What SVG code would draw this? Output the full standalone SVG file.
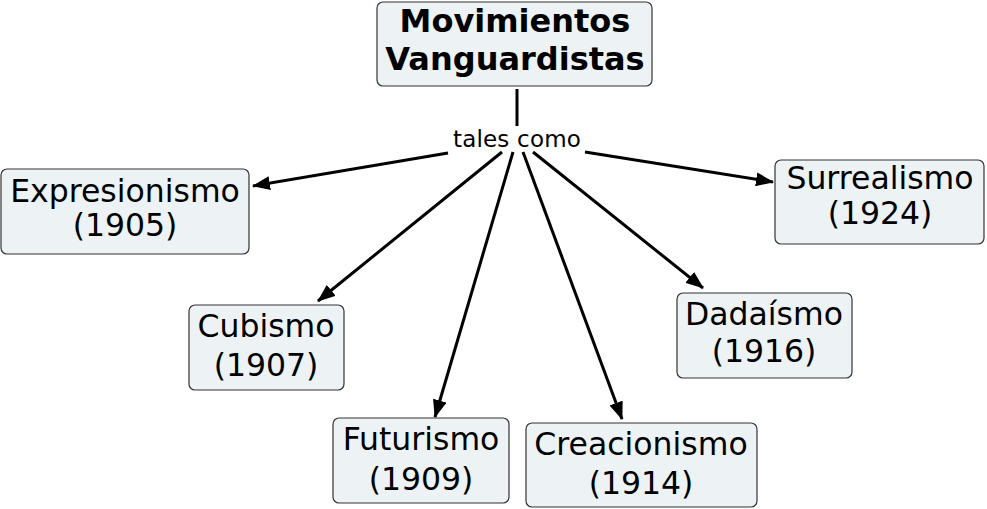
<svg xmlns="http://www.w3.org/2000/svg" width="987" height="509" viewBox="0 0 987 509">
<style>
.box{fill:#edf3f5;stroke:#333;stroke-width:1.2}
.t{font-family:"DejaVu Sans",Verdana,sans-serif;font-size:31.5px;fill:#000;text-anchor:middle}
.b{font-weight:bold;font-size:32px}
.lbl{font-family:"DejaVu Sans",Verdana,sans-serif;font-size:23px;letter-spacing:0.2px;fill:#000;text-anchor:middle}
.c{stroke:#000;stroke-width:3;fill:none}
</style>
<defs>
<marker id="ah" markerUnits="userSpaceOnUse" markerWidth="18" markerHeight="14" viewBox="0 0 18 14" refX="17" refY="7" orient="auto">
<path d="M0,0 L18,7 L0,14 z" fill="#000"/>
</marker>
</defs>
<rect width="987" height="509" fill="#fff"/>
<g id="connectors">
<line class="c" x1="517" y1="89" x2="517" y2="126"/>
<line class="c" x1="448" y1="153" x2="253" y2="186" marker-end="url(#ah)"/>
<line class="c" x1="502" y1="152" x2="318" y2="301" marker-end="url(#ah)"/>
<line class="c" x1="513" y1="152" x2="435" y2="417" marker-end="url(#ah)"/>
<line class="c" x1="523" y1="152" x2="622" y2="419" marker-end="url(#ah)"/>
<line class="c" x1="533" y1="152" x2="703" y2="288" marker-end="url(#ah)"/>
<line class="c" x1="585" y1="152" x2="773" y2="182" marker-end="url(#ah)"/>
<text class="lbl" x="517" y="147">tales como</text>
</g>
<g id="main">
<rect class="box" x="377" y="2" width="275" height="84" rx="6"/>
<text class="t b" x="515" y="32">Movimientos</text>
<text class="t b" x="515" y="70">Vanguardistas</text>
</g>
<g id="expresionismo">
<rect class="box" x="1" y="169" width="248" height="85" rx="6"/>
<text class="t" x="125" y="202">Expresionismo</text>
<text class="t" x="125" y="236">(1905)</text>
</g>
<g id="cubismo">
<rect class="box" x="189" y="305" width="155" height="85" rx="6"/>
<text class="t" x="266" y="337">Cubismo</text>
<text class="t" x="266" y="376">(1907)</text>
</g>
<g id="futurismo">
<rect class="box" x="333" y="418" width="176" height="85" rx="6"/>
<text class="t" x="421" y="450">Futurismo</text>
<text class="t" x="421" y="490">(1909)</text>
</g>
<g id="creacionismo">
<rect class="box" x="526" y="423" width="231" height="84" rx="6"/>
<text class="t" x="641" y="455">Creacionismo</text>
<text class="t" x="641" y="494">(1914)</text>
</g>
<g id="dadaismo">
<rect class="box" x="677" y="293" width="175" height="85" rx="6"/>
<text class="t" x="764" y="325">Dadaísmo</text>
<text class="t" x="764" y="362">(1916)</text>
</g>
<g id="surrealismo">
<rect class="box" x="775" y="160" width="209" height="84" rx="6"/>
<text class="t" x="880" y="189">Surrealismo</text>
<text class="t" x="880" y="224">(1924)</text>
</g>
</svg>
